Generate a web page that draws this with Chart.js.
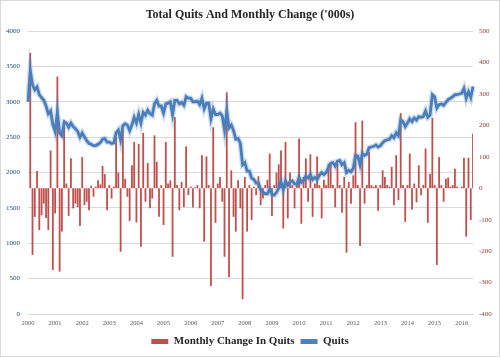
<!DOCTYPE html>
<html><head><meta charset="utf-8">
<script src="https://cdn.jsdelivr.net/npm/chart.js@4"></script>
<style>
html,body{margin:0;padding:0;background:#fff}
#wrap{position:relative;width:500px;height:357px}
#frame{position:absolute;left:0;top:0;width:500px;height:357px;box-sizing:border-box;border:1px solid #d9d9d9;pointer-events:none}
</style></head><body>
<div id="wrap"><canvas id="c" width="500" height="357"></canvas><div id="frame"></div></div>
<script>
const yearLabels = ['2000','2001','2002','2003','2004','2005','2006','2007','2008','2009','2010','2011','2012','2013','2014','2015','2016'];

const monthlyChange = [
0,430,-212,-91,55,-133,-86,-49,-95,-133,120,-260,
-80,355,-265,-138,218,15,-88,95,-64,-49,-60,-120,
99,-54,-43,-70,8,-27,5,25,12,71,45,-70,
10,-33,5,163,50,-202,184,30,-27,-104,73,147,
-109,141,-186,176,-43,80,-64,-33,168,84,-91,10,
-117,147,15,25,-218,226,10,-70,20,-60,133,-22,
5,-61,3,10,-64,105,-170,101,10,-311,194,-110,
15,36,-43,-218,305,-283,57,-91,-138,25,-64,-353,
36,-138,10,-101,5,-22,38,-54,-33,10,27,110,
-88,10,50,76,120,-128,147,-96,50,10,-64,15,
158,-113,36,95,-43,108,-91,15,101,10,-96,27,
10,78,84,10,-61,78,10,-78,36,-205,20,-49,
41,210,10,-184,215,-49,10,115,10,5,10,-72,
10,57,36,10,5,68,-54,105,-38,239,10,-107,
10,110,-68,15,-45,73,-22,10,126,-110,46,224,
10,-244,99,10,-43,30,34,5,10,62,5,0,
5,97,-154,97,-101,173
];

const quits = [
3000,3440,3240,3170,3210,3100,3060,3020,2940,2830,2870,2680,
2580,2850,2560,2520,2710,2700,2640,2700,2650,2620,2580,2500,
2560,2500,2450,2410,2400,2380,2380,2400,2420,2470,2480,2430,
2430,2410,2420,2560,2600,2460,2660,2690,2670,2590,2670,2780,
2700,2820,2700,2850,2810,2880,2830,2810,2970,3020,2940,2940,
2840,2970,2980,3000,2820,3020,3020,2970,2990,2950,3070,3050,
3050,3000,3000,3010,2960,3050,2900,2980,2980,2760,2900,2820,
2820,2840,2800,2600,2870,2630,2670,2590,2470,2480,2410,2110,
2140,2020,2020,1920,1900,1850,1850,1760,1720,1700,1700,1770,
1690,1680,1720,1780,1870,1760,1880,1820,1870,1880,1840,1830,
1930,1860,1890,1950,1920,1970,1900,1930,1900,1960,2000,1970,
2000,2070,2130,2140,2090,2160,2170,2110,2140,2000,2030,2010,
2060,2240,2230,2110,2270,2240,2260,2350,2360,2370,2390,2360,
2380,2420,2450,2460,2470,2520,2490,2560,2520,2745,2720,2650,
2700,2760,2720,2770,2740,2790,2780,2790,2870,2780,2810,3100,
3070,2910,2960,2970,2950,2990,3030,3050,3070,3100,3100,3110,
3120,3190,3050,3140,3060,3215
];

const monthNames = ['01','02','03','04','05','06','07','08','09','10','11','12'];
const categories = quits.map((_, i) => yearLabels[Math.floor(i / 12)] + '-' + monthNames[i % 12]);

const serif = 'Liberation Serif';
const tickFont = {family: serif, size: 7};

new Chart(document.getElementById('c'), {
  type: 'bar',
  data: {
    labels: categories,
    datasets: [
      {type: 'bar', label: 'Monthly Change In Quits', data: monthlyChange, yAxisID: 'y1',
       backgroundColor: '#c0504d', borderWidth: 0, barPercentage: 0.8, categoryPercentage: 1, order: 3},
      {type: 'line', label: 'Quits', data: quits, yAxisID: 'y',
       borderColor: '#4a7ebb', backgroundColor: '#4f81bd', borderWidth: 2.8, pointRadius: 0, tension: 0, order: 1},
      {type: 'line', label: '_glow', data: quits, yAxisID: 'y',
       borderColor: 'rgba(79,129,189,0.28)', backgroundColor: 'rgba(0,0,0,0)', borderWidth: 5.5, pointRadius: 0, tension: 0, order: 2}
    ]
  },
  options: {
    responsive: false,
    animation: false,
    layout: {padding: 0},
    plugins: {
      tooltip: {enabled: false},
      title: {
        display: true,
        text: "Total Quits And Monthly Change ('000s)",
        color: '#262626',
        font: {family: serif, size: 12, weight: 'bold', lineHeight: 1.2},
        padding: {top: 8, bottom: 8.6}
      },
      legend: {
        position: 'bottom',
        labels: {
          color: '#262626',
          font: {family: serif, size: 11, weight: 'bold'},
          boxWidth: 17,
          boxHeight: 5,
          padding: 6,
          filter: item => item.text !== '_glow',
          sort: (a, b) => a.datasetIndex - b.datasetIndex,
          generateLabels: chart => {
            const items = Chart.defaults.plugins.legend.labels.generateLabels(chart);
            items.forEach(it => {
              if (it.text === 'Quits') { it.fillStyle = '#4f81bd'; it.strokeStyle = '#4f81bd'; }
              it.lineWidth = 0;
            });
            return items;
          }
        }
      }
    },
    scales: {
      x: {
        type: 'category',
        offset: false,
        grid: {display: false, drawTicks: false},
        border: {display: true, color: '#d9d9d9'},
        ticks: {
          autoSkip: false, maxRotation: 0, minRotation: 0, padding: 5,
          font: {family: serif, size: 6.5}, color: '#595959',
          callback: (v, i) => (i % 12 === 0 ? yearLabels[i / 12] : null)
        },
        afterFit: s => { s.height = 16; }
      },
      y: {
        position: 'left', min: 0, max: 4000,
        ticks: {stepSize: 500, font: tickFont, color: '#1f497d', padding: 8, callback: v => String(v)},
        grid: {color: '#d9d9d9', drawTicks: false},
        border: {display: false},
        afterFit: s => { s.width = 28; }
      },
      y1: {
        position: 'right', min: -400, max: 500,
        ticks: {stepSize: 100, font: tickFont, color: '#953735', padding: 6, callback: v => String(v)},
        grid: {display: false, drawTicks: false},
        border: {display: false},
        afterFit: s => { s.width = 27; }
      }
    }
  }
});
</script>
</body></html>
